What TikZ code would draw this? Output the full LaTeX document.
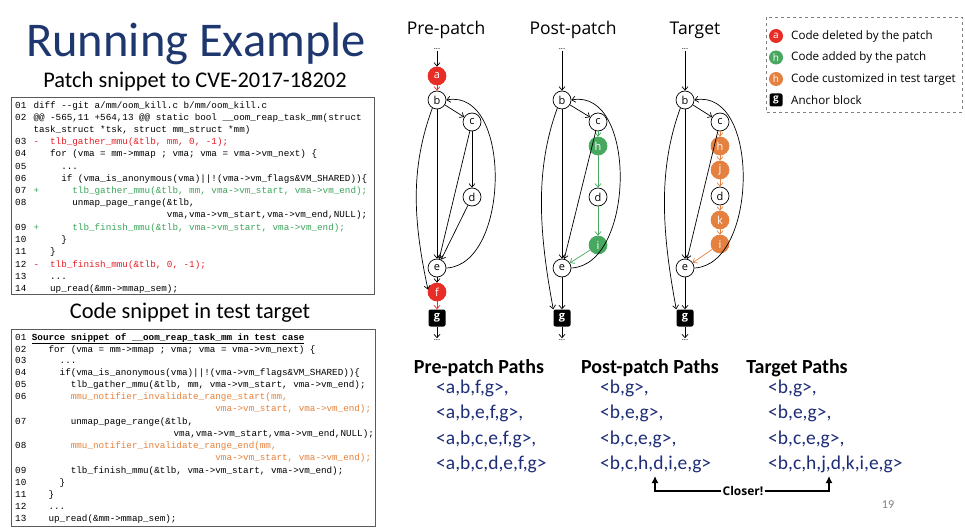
\documentclass[tikz,border=0pt]{standalone}
\usepackage{fontspec}
\setmainfont{Carlito}
\setmonofont{Liberation Mono}
\newfontfamily\gfont{Open Sans}
\usetikzlibrary{arrows.meta}
\definecolor{titleblue}{RGB}{30,55,110}
\definecolor{pathblue}{RGB}{30,45,120}
\definecolor{delred}{RGB}{232,45,38}
\definecolor{addgreen}{RGB}{72,168,96}
\definecolor{custorange}{RGB}{228,128,64}
\definecolor{codered}{RGB}{230,30,40}
\definecolor{codegreen}{RGB}{60,165,90}
\definecolor{codeorange}{RGB}{230,130,60}
\definecolor{boxgray}{RGB}{90,90,90}
\tikzset{
  code/.style={anchor=west,inner sep=0pt,text height=7pt,text depth=2pt,font=\ttfamily\fontsize{9.27}{11}\selectfont},
  gnode/.style={circle,draw,line width=0.7pt,fill=white,minimum size=18pt,inner sep=0pt,font=\gfont\fontsize{11}{12}\selectfont},
  delnode/.style={gnode,draw=delred,fill=delred,text=white},
  addnode/.style={gnode,draw=addgreen,fill=addgreen,text=white},
  custnode/.style={gnode,draw=custorange,fill=custorange,text=white},
  ancnode/.style={rectangle,rounded corners=2pt,fill=black,text=white,minimum size=17pt,inner sep=0pt,font=\gfont\bfseries\fontsize{11}{12}\selectfont},
  dotsnode/.style={inner sep=1pt,font=\gfont\fontsize{8}{8}\selectfont},
  arr/.style={draw,line width=0.7pt,-{Straight Barb[length=3.5pt,width=6pt]}},
  legc/.style={circle,minimum size=14pt,inner sep=0pt,text=white,font=\gfont\fontsize{10}{11}\selectfont},
  legt/.style={anchor=west,inner sep=0pt,font=\gfont\fontsize{11.6}{12}\selectfont},
  ghead/.style={font=\gfont\fontsize{17.5}{18}\selectfont},
  phead/.style={font=\bfseries\fontsize{20}{22}\selectfont},
  ptxt/.style={anchor=west,inner sep=0pt,text=pathblue,font=\fontsize{19.5}{21}\selectfont},
  cbox/.style={draw=boxgray,line width=1pt}
}
\begin{document}
\begin{tikzpicture}[x=1pt,y=-1pt]
\useasboundingbox (0,0) rectangle (965,529);
\fill[white] (0,0) rectangle (965,529);

% Title
\node[anchor=west,inner sep=0pt,text=titleblue,font=\fontsize{48.5}{50}\selectfont] (title) at (26,44) {Running Example};
\node[font=\fontsize{22.4}{24}\selectfont] (sub1) at (195,82) {Patch snippet to CVE-2017-18202};
\node[font=\fontsize{22.4}{24}\selectfont] (sub2) at (190,313) {Code snippet in test target};

% Code box 1
\draw[cbox] (11,98) rectangle (374,294);
\node[code] (n01) at (15,106) {01};
\node[code] (t01) at (33.3,106) {diff --git a/mm/oom\_kill.c b/mm/oom\_kill.c};
\node[code] (n02) at (15,118) {02};
\node[code] (t02) at (33.3,118) {@@ -565,11 +564,13 @@ static bool \_\_oom\_reap\_task\_mm(struct};
\node[code] (t02b) at (33.3,130) {task\_struct *tsk, struct mm\_struct *mm)};
\node[code] (n03) at (15,142) {03};
\node[code,text=codered] (m03) at (33.3,142) {-};
\node[code,text=codered] (t03) at ({33.3+3*5.56},142) {tlb\_gather\_mmu(\&tlb, mm, 0, -1);};
\node[code] (n04) at (15,154.5) {04};
\node[code] (t04) at ({33.3+3*5.56},154.5) {for (vma = mm->mmap ; vma; vma = vma->vm\_next) \{};
\node[code] (n05) at (15,166.7) {05};
\node[code] (t05) at ({33.3+5*5.56},166.7) {...};
\node[code] (n06) at (15,179) {06};
\node[code] (t06) at ({33.3+5*5.56},179) {if (vma\_is\_anonymous(vma)||!(vma->vm\_flags\&VM\_SHARED))\{};
\node[code] (n07) at (15,191.3) {07};
\node[code,text=codegreen] (m07) at (33.3,191.3) {+};
\node[code,text=codegreen] (t07) at ({33.3+7*5.56},191.3) {tlb\_gather\_mmu(\&tlb, mm, vma->vm\_start, vma->vm\_end);};
\node[code] (n08) at (15,203.5) {08};
\node[code] (t08) at ({33.3+7*5.56},203.5) {unmap\_page\_range(\&tlb,};
\node[code] (t08b) at ({33.3+24*5.56},215.5) {vma,vma->vm\_start,vma->vm\_end,NULL);};
\node[code] (n09) at (15,227.7) {09};
\node[code,text=codegreen] (m09) at (33.3,227.7) {+};
\node[code,text=codegreen] (t09) at ({33.3+7*5.56},227.7) {tlb\_finish\_mmu(\&tlb, vma->vm\_start, vma->vm\_end);};
\node[code] (n10) at (15,240) {10};
\node[code] (t10) at ({33.3+5*5.56},240) {\}};
\node[code] (n11) at (15,252.3) {11};
\node[code] (t11) at ({33.3+3*5.56},252.3) {\}};
\node[code] (n12) at (15,264.7) {12};
\node[code,text=codered] (m12) at (33.3,264.7) {-};
\node[code,text=codered] (t12) at ({33.3+3*5.56},264.7) {tlb\_finish\_mmu(\&tlb, 0, -1);};
\node[code] (n13) at (15,276.8) {13};
\node[code] (t13) at ({33.3+3*5.56},276.8) {...};
\node[code] (n14) at (15,289) {14};
\node[code] (t14) at ({33.3+3*5.56},289) {up\_read(\&mm->mmap\_sem);};

% Code box 2
\draw[cbox] (11,329) rectangle (375,526);
\node[code] (s01) at (15,337.7) {01};
\node[code,font=\ttfamily\bfseries\fontsize{9.27}{11}\selectfont] (u01) at (31.7,337.7) {\underline{Source snippet of \_\_oom\_reap\_task\_mm in test case}};
\node[code] (s02) at (15,349.5) {02};
\node[code] (u02) at ({31.7+3*5.56},349.5) {for (vma = mm->mmap ; vma; vma = vma->vm\_next) \{};
\node[code] (s03) at (15,361.3) {03};
\node[code] (u03) at ({31.7+5*5.56},361.3) {...};
\node[code] (s04) at (15,373.3) {04};
\node[code] (u04) at ({31.7+5*5.56},373.3) {if(vma\_is\_anonymous(vma)||!(vma->vm\_flags\&VM\_SHARED))\{};
\node[code] (s05) at (15,385) {05};
\node[code] (u05) at ({31.7+7*5.56},385) {tlb\_gather\_mmu(\&tlb, mm, vma->vm\_start, vma->vm\_end);};
\node[code] (s06) at (15,397) {06};
\node[code,text=codeorange] (u06) at ({31.7+7*5.56},397) {mmu\_notifier\_invalidate\_range\_start(mm,};
\node[code,text=codeorange] (u06b) at ({31.7+33*5.56},409) {vma->vm\_start, vma->vm\_end);};
\node[code] (s07) at (15,421.7) {07};
\node[code] (u07) at ({31.7+7*5.56},421.7) {unmap\_page\_range(\&tlb,};
\node[code] (u07b) at ({31.7+25.5*5.56},434) {vma,vma->vm\_start,vma->vm\_end,NULL);};
\node[code] (s08) at (15,446) {08};
\node[code,text=codeorange] (u08) at ({31.7+7*5.56},446) {mmu\_notifier\_invalidate\_range\_end(mm,};
\node[code,text=codeorange] (u08b) at ({31.7+33*5.56},458) {vma->vm\_start, vma->vm\_end);};
\node[code] (s09) at (15,471) {09};
\node[code] (u09) at ({31.7+7*5.56},471) {tlb\_finish\_mmu(\&tlb, vma->vm\_start, vma->vm\_end);};
\node[code] (s10) at (15,482.7) {10};
\node[code] (u10) at ({31.7+5*5.56},482.7) {\}};
\node[code] (s11) at (15,495) {11};
\node[code] (u11) at ({31.7+3*5.56},495) {\}};
\node[code] (s12) at (15,507.3) {12};
\node[code] (u12) at ({31.7+3*5.56},507.3) {...};
\node[code] (s13) at (15,519) {13};
\node[code] (u13) at ({31.7+3*5.56},519) {up\_read(\&mm->mmap\_sem);};

% Graph headings
\node[ghead] (h1) at (446,30) {Pre-patch};
\node[ghead] (h2) at (573,30) {Post-patch};
\node[ghead] (h3) at (695,30) {Target};

% Pre-patch graph
\node[dotsnode] (pt) at (437,49) {...};
\node[delnode] (pa) at (437,76) {a};
\node[gnode] (pb) at (437,100) {b};
\node[gnode] (pc) at (472,122) {c};
\node[gnode] (pd) at (472,197) {d};
\node[gnode] (pe) at (437,268) {e};
\node[delnode] (pf) at (437,292) {f};
\node[ancnode] (pg) at (437,318) {g};
\node[dotsnode] (pbot) at (437,340) {...};
\draw[arr] (pt) -- (pa);
\draw[arr,delred] (pa) -- (pb);
\draw[arr] (pb) -- (pc);
\draw[arr] (pb) -- (pe);
\draw[arr] (pb.240) .. controls +(-22,60) and +(-15,-70) .. (pf.165);
\draw[arr] (pc) -- (pd);
\draw[arr] (pc) -- (pe);
\draw[arr] (pd) -- (pe);
\draw[arr] (pe.east) .. controls +(64,-3) and +(66,-12) .. (pb.east);
\draw[arr] (pe) -- (pf);
\draw[arr,delred] (pf) -- (pg);
\draw[arr] (pg) -- (pbot);

% Post-patch graph
\node[dotsnode] (qt) at (562,49) {...};
\node[gnode] (qb) at (562,100) {b};
\node[gnode] (qc) at (598,122) {c};
\node[addnode] (qh) at (598,146) {h};
\node[gnode] (qd) at (598,197) {d};
\node[addnode] (qi) at (598,245) {i};
\node[gnode] (qe) at (562,268) {e};
\node[ancnode] (qg) at (562,318) {g};
\node[dotsnode] (qbot) at (562,340) {...};
\draw[arr] (qt) -- (qb);
\draw[arr] (qb) -- (qc);
\draw[arr] (qb) -- (qe);
\draw[arr] (qb.240) .. controls +(-22,60) and +(-15,-80) .. (qg.north west);
\draw[arr,addgreen] (qc) -- (qh);
\draw[arr,addgreen] (qh) -- (qd);
\draw[arr,addgreen] (qd) -- (qi);
\draw[arr,addgreen] (qi) -- (qe);
\draw[arr] (qc) -- (qe);
\draw[arr] (qe.east) .. controls +(64,-3) and +(66,-12) .. (qb.east);
\draw[arr] (qe) -- (qg);
\draw[arr] (qg) -- (qbot);

% Target graph
\node[dotsnode] (rt) at (685,49) {...};
\node[gnode] (rb) at (685,100) {b};
\node[gnode] (rc) at (720,122) {c};
\node[custnode] (rh) at (720,146) {h};
\node[custnode] (rj) at (720,170) {j};
\node[gnode] (rd) at (720,196) {d};
\node[custnode] (rk) at (720,220) {k};
\node[custnode] (ri) at (720,244) {i};
\node[gnode] (re) at (685,268) {e};
\node[ancnode] (rg) at (685,318) {g};
\node[dotsnode] (rbot) at (685,340) {...};
\draw[arr] (rt) -- (rb);
\draw[arr] (rb) -- (rc);
\draw[arr] (rb) -- (re);
\draw[arr] (rb.240) .. controls +(-22,60) and +(-15,-80) .. (rg.north west);
\draw[arr,custorange] (rc) -- (rh);
\draw[arr,custorange] (rh) -- (rj);
\draw[arr,custorange] (rj) -- (rd);
\draw[arr,custorange] (rd) -- (rk);
\draw[arr,custorange] (rk) -- (ri);
\draw[arr,custorange] (ri) -- (re);
\draw[arr] (rc) -- (re);
\draw[arr] (re.east) .. controls +(64,-3) and +(66,-12) .. (rb.east);
\draw[arr] (re) -- (rg);
\draw[arr] (rg) -- (rbot);

% Legend
\draw[gray,dashed,line width=0.8pt] (766,17) rectangle (962,112);
\node[legc,fill=delred] (la) at (776,36) {a};
\node[legt] (lat) at (791,36) {Code deleted by the patch};
\node[legc,fill=addgreen] (lh) at (776,57.5) {h};
\node[legt] (lht) at (791,57.5) {Code added by the patch};
\node[legc,fill=custorange] (lo) at (776,79) {h};
\node[legt] (lot) at (791,79) {Code customized in test target};
\node[ancnode,minimum size=13pt,font=\gfont\bfseries\fontsize{10}{11}\selectfont] (lg) at (776,100) {g};
\node[legt] (lgt) at (791,100) {Anchor block};

% Paths
\node[phead] (ph1) at (479,368) {Pre-patch Paths};
\node[phead] (ph2) at (650,368) {Post-patch Paths};
\node[phead] (ph3) at (797,368) {Target Paths};
\node[ptxt] (p1a) at (436,388) {<a,b,f,g>,};
\node[ptxt] (p1b) at (436,413) {<a,b,e,f,g>,};
\node[ptxt] (p1c) at (436,439) {<a,b,c,e,f,g>,};
\node[ptxt] (p1d) at (436,464) {<a,b,c,d,e,f,g>};
\node[ptxt] (p2a) at (600,388) {<b,g>,};
\node[ptxt] (p2b) at (600,413) {<b,e,g>,};
\node[ptxt] (p2c) at (600,439) {<b,c,e,g>,};
\node[ptxt] (p2d) at (600,464) {<b,c,h,d,i,e,g>};
\node[ptxt] (p3a) at (768,388) {<b,g>,};
\node[ptxt] (p3b) at (768,413) {<b,e,g>,};
\node[ptxt] (p3c) at (768,439) {<b,c,e,g>,};
\node[ptxt] (p3d) at (768,464) {<b,c,h,j,d,k,i,e,g>};

% Closer arrow
\node[inner sep=1pt,font=\gfont\bfseries\fontsize{12}{13}\selectfont] (closer) at (743,491) {Closer!};
\coordinate (cl) at (655,476);
\coordinate (cr) at (829,476);
\draw[line width=1.5pt,-{Latex[length=7pt,width=7pt]}] (closer.west) -| (cl);
\draw[line width=1.5pt,-{Latex[length=7pt,width=7pt]}] (closer.east) -| (cr);

% Page number
\node[text=gray,font=\fontsize{12}{13}\selectfont] (pg19) at (888,505) {19};
\end{tikzpicture}
\end{document}
